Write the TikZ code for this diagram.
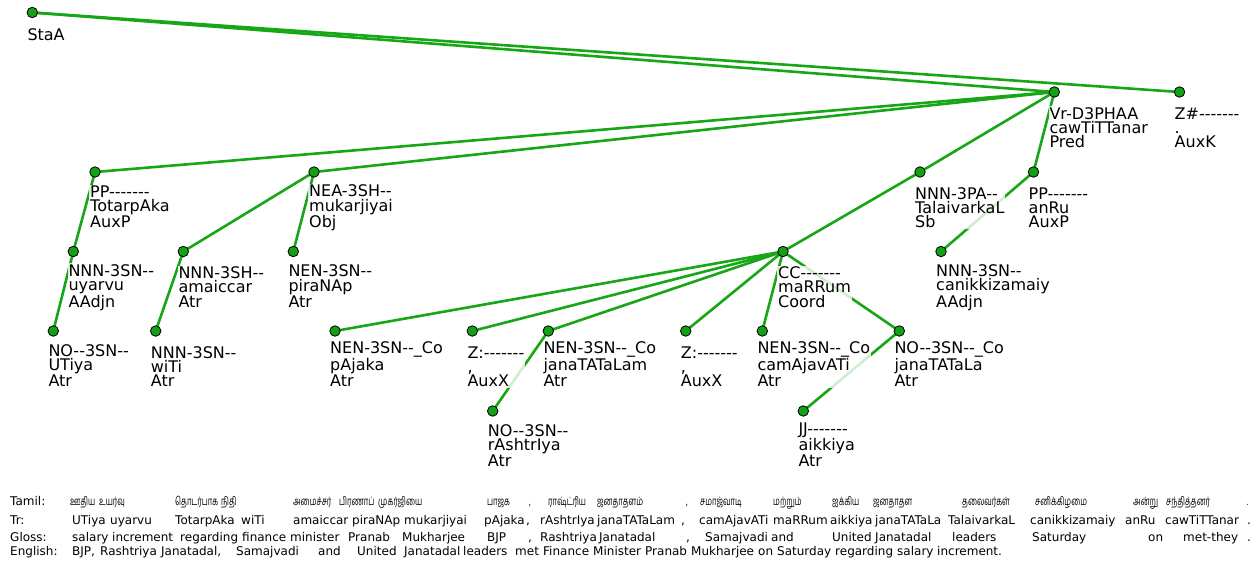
\documentclass[tikz,border=0pt]{standalone}
\usepackage{fontspec}
\setmainfont{DejaVu Sans}[Ligatures=TeXOff]
\newfontfamily\tamilfont[Script=Tamil, FakeStretch=0.66]{Hind Madurai}
\definecolor{edgegreen}{RGB}{22,166,22}
\definecolor{dotgreen}{RGB}{20,160,20}
\tikzset{
  edge/.style={draw=edgegreen, line width=2.6pt},
  dot/.style={circle, fill=dotgreen, draw=black, line width=0.8pt,
    minimum size=10.5pt, inner sep=0pt},
  lbl/.style={anchor=base west, align=left, inner sep=1pt,
    font=\fontsize{16}{14.3}\selectfont,
    fill=white, fill opacity=0.8, text opacity=1},
  rowtext/.style={anchor=base west, inner sep=0pt,
    font=\fontsize{12}{14}\selectfont},
  tamiltext/.style={anchor=base west, inner sep=0pt,
    font=\tamilfont\fontsize{11.5}{14}\selectfont},
}
\begin{document}
\begin{tikzpicture}[x=1pt, y=-1pt]
\fill[white] (0,0) rectangle (1260,562);
\path[use as bounding box] (0,0) rectangle (1260,562);

% tree positions
\coordinate (sta) at (32.3,12.5);
\coordinate (vr) at (1054.3,92);
\coordinate (zh) at (1179.5,92);
\coordinate (pp1) at (95,172);
\coordinate (nea) at (314,172);
\coordinate (tal) at (920,172);
\coordinate (pp2) at (1033.5,172);
\coordinate (uy) at (73.3,251.5);
\coordinate (am) at (183.3,251.5);
\coordinate (pi) at (293.3,251.5);
\coordinate (cc) at (783,251.5);
\coordinate (ca) at (941,251.5);
\coordinate (ut) at (53.3,331);
\coordinate (wi) at (155.7,331);
\coordinate (pa) at (335,331);
\coordinate (za) at (472.3,331);
\coordinate (jm) at (548.3,331);
\coordinate (zb) at (685.7,331);
\coordinate (cj) at (762.3,331);
\coordinate (jl) at (899.3,331);
\coordinate (ra) at (492.7,411);
\coordinate (ai) at (803.3,411);

% dependency edges
\foreach \a/\b in {sta/vr, sta/zh, vr/pp1, vr/nea, vr/tal, vr/pp2,
  pp1/uy, uy/ut, nea/am, nea/pi, am/wi, tal/cc, pp2/ca,
  cc/pa, cc/za, cc/jm, cc/zb, cc/cj, cc/jl, jm/ra, jl/ai}
  \draw[edge] (\a) -- (\b);

% node labels (anchor = baseline of the last of three lines)
\node[lbl] (sta-l) at ([shift={(-6,28)}]sta) {StaA};
\node[lbl] (vr-l) at ([shift={(-6,55.6)}]vr) {Vr-D3PHAA\\cawTiTTanar\\Pred};
\node[lbl] (zh-l) at ([shift={(-6,55.6)}]zh) {Z\#-------\\.\\AuxK};
\node[lbl] (pp1-l) at ([shift={(-6,55.6)}]pp1) {PP-------\\TotarpAka\\AuxP};
\node[lbl] (nea-l) at ([shift={(-6,55.6)}]nea) {NEA-3SH--\\mukarjiyai\\Obj};
\node[lbl] (tal-l) at ([shift={(-6,55.6)}]tal) {NNN-3PA--\\TalaivarkaL\\Sb};
\node[lbl] (pp2-l) at ([shift={(-6,55.6)}]pp2) {PP-------\\anRu\\AuxP};
\node[lbl] (uy-l) at ([shift={(-6,55.6)}]uy) {NNN-3SN--\\uyarvu\\AAdjn};
\node[lbl] (am-l) at ([shift={(-6,55.6)}]am) {NNN-3SH--\\amaiccar\\Atr};
\node[lbl] (pi-l) at ([shift={(-6,55.6)}]pi) {NEN-3SN--\\piraNAp\\Atr};
\node[lbl] (cc-l) at ([shift={(-6,55.6)}]cc) {CC-------\\maRRum\\Coord};
\node[lbl] (ca-l) at ([shift={(-6,55.6)}]ca) {NNN-3SN--\\canikkizamaiy\\AAdjn};
\node[lbl] (ut-l) at ([shift={(-6,55.6)}]ut) {NO--3SN--\\UTiya\\Atr};
\node[lbl] (wi-l) at ([shift={(-6,55.6)}]wi) {NNN-3SN--\\wiTi\\Atr};
\node[lbl] (pa-l) at ([shift={(-6,55.6)}]pa) {NEN-3SN--\_Co\\pAjaka\\Atr};
\node[lbl] (za-l) at ([shift={(-6,55.6)}]za) {Z:-------\\,\\AuxX};
\node[lbl] (jm-l) at ([shift={(-6,55.6)}]jm) {NEN-3SN--\_Co\\janaTATaLam\\Atr};
\node[lbl] (zb-l) at ([shift={(-6,55.6)}]zb) {Z:-------\\,\\AuxX};
\node[lbl] (cj-l) at ([shift={(-6,55.6)}]cj) {NEN-3SN--\_Co\\camAjavATi\\Atr};
\node[lbl] (jl-l) at ([shift={(-6,55.6)}]jl) {NO--3SN--\_Co\\janaTATaLa\\Atr};
\node[lbl] (ra-l) at ([shift={(-6,55.6)}]ra) {NO--3SN--\\rAshtrIya\\Atr};
\node[lbl] (ai-l) at ([shift={(-6,55.6)}]ai) {JJ-------\\aikkiya\\Atr};

% node dots
\foreach \n in {sta,vr,zh,pp1,nea,tal,pp2,uy,am,pi,cc,ca,ut,wi,pa,za,jm,zb,cj,jl,ra,ai}
  \node[dot] (\n-d) at (\n) {};

% interlinear rows
\node[rowtext] (tamil-h) at (10,505.5) {Tamil:};
\node[rowtext] (tr-h) at (10,524.5) {Tr:};
\node[rowtext] (gloss-h) at (10,541.5) {Gloss:};
\node[rowtext] (eng-h) at (10,555.5) {English:};

\foreach \x/\w [count=\i] in {70/ஊதிய, 99/உயர்வு, 175/தொடர்பாக, 221/நிதி,
  293/அமைச்சர், 339/பிரணாப், 378/முகர்ஜியை, 487/பாஜக, 529/{,},
  548/ராஷ்ட்ரிய, 597/ஜனதாதளம், 686/{,}, 700/சமாஜ்வாடி, 773/மற்றும்,
  832/ஐக்கிய, 873/ஜனதாதள, 962/தலைவர்கள், 1035/சனிக்கிழமை, 1133/அன்று,
  1166/சந்தித்தனர், 1247/.}
  \node[tamiltext] (tam\i) at (\x,505.5) {\w};

\foreach \x/\w [count=\i] in {72/UTiya, 110/uyarvu, 175/TotarpAka, 241/wiTi,
  293/amaiccar, 352/piraNAp, 404/mukarjiyai, 484/pAjaka, 526/{,},
  540/rAshtrIya, 597/janaTATaLam, 681/{,}, 699/camAjavATi, 773/maRRum,
  830/aikkiya, 875/janaTATaLa, 948/TalaivarkaL, 1030/canikkizamaiy,
  1125/anRu, 1165/cawTiTTanar, 1247/.}
  \node[rowtext] (tr\i) at (\x,524.5) {\w};

\foreach \x/\w [count=\i] in {72/salary, 112/increment, 180/regarding,
  242/finance, 290/minister, 348/Pranab, 402/Mukharjee, 487/BJP, 528/{,},
  540/Rashtriya, 599/Janatadal, 686/{,}, 705/Samajvadi, 771/and,
  832/United, 875/Janatadal, 952/leaders, 1032/Saturday, 1148/on,
  1183/met-they, 1247/.}
  \node[rowtext] (gl\i) at (\x,541.5) {\w};

\foreach \x/\w [count=\i] in {72/{BJP,}, 100/Rashtriya, 161/{Janatadal,},
  236/Samajvadi, 318/and, 357/United, 404/Janatadal, 463/leaders,
  515/met, 543/Finance, 593/Minister, 645/Pranab, 691/Mukharjee,
  758/on, 777/Saturday, 835/regarding, 897/salary, 937/increment.}
  \node[rowtext] (en\i) at (\x,555.5) {\w};
\end{tikzpicture}
\end{document}
